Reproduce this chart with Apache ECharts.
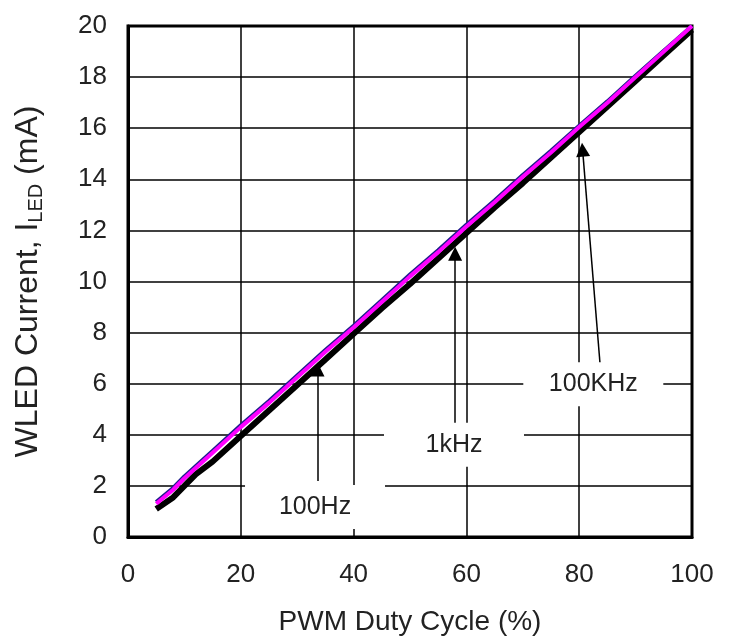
<!DOCTYPE html>
<html>
<head>
<meta charset="utf-8">
<script src="https://cdn.jsdelivr.net/npm/echarts@6/dist/echarts.min.js"></script>
<style>html,body{margin:0;padding:0;background:#fff}#c{width:743px;height:641px}</style>
</head>
<body>
<div id="c"></div>
<script>
const duty = [5, 8, 10, 12, 15, 20, 25, 30, 35, 40, 45, 50, 55, 60, 65, 70, 75, 80, 85, 90, 95, 100];
const current100Hz = [1.37, 1.92, 2.37, 2.77, 3.37, 4.37, 5.32, 6.32, 7.32, 8.27, 9.27, 10.27, 11.22, 12.22, 13.17, 14.17, 15.12, 16.1, 17.05, 18.05, 19.03, 20.0];
const current1kHz = [1.3, 1.85, 2.3, 2.7, 3.3, 4.3, 5.25, 6.25, 7.25, 8.2, 9.2, 10.2, 11.15, 12.15, 13.1, 14.1, 15.05, 16.05, 17.0, 18.0, 19.0, 20.0];
const current100KHz = [1.1, 1.55, 2.0, 2.45, 2.95, 3.95, 4.95, 5.95, 6.95, 7.95, 8.95, 9.9, 10.9, 11.9, 12.9, 13.85, 14.85, 15.85, 16.85, 17.85, 18.85, 19.85];
const xTicks = [0, 20, 40, 60, 80, 100];
const yTicks = [0, 2, 4, 6, 8, 10, 12, 14, 16, 18, 20];
const labels = ['100Hz', '1kHz', '100KHz'];

const pairs = vals => duty.map((d, i) => [d, vals[i]]);
const font = 'Liberation Sans, Arial, sans-serif';
const chart = echarts.init(document.getElementById('c'), null, {renderer: 'canvas'});

const arrowLines = [
  [{coord: [33.6, 2.19]}, {coord: [33.6, 6.56]}],
  [{coord: [58.0, 4.37]}, {coord: [58.0, 11.09]}],
  [{coord: [83.7, 6.76]}, {coord: [80.6, 15.16]}]
];
const boxPts = [
  {coord: [33.16, 1.17], value: labels[0]},
  {coord: [57.8, 3.61], value: labels[1]},
  {coord: [82.5, 5.98], value: labels[2]}
];

chart.setOption({
  animation: false,
  backgroundColor: '#fff',
  grid: {left: 128, right: 51, top: 26, bottom: 103, show: true, borderColor: '#000', borderWidth: 3, backgroundColor: 'transparent'},
  xAxis: {
    type: 'value', min: 0, max: 100, interval: 20,
    name: 'PWM Duty Cycle (%)', nameLocation: 'middle', nameGap: 71,
    nameTextStyle: {fontFamily: font, fontSize: 28, color: '#222'},
    axisLine: {show: true, lineStyle: {color: '#000', width: 3}},
    axisTick: {show: false},
    axisLabel: {fontFamily: font, fontSize: 26, color: '#222', margin: 25,
      formatter: v => xTicks.includes(v) ? String(v) : ''},
    splitLine: {show: true, lineStyle: {color: '#000', width: 1.5}}
  },
  yAxis: {
    type: 'value', min: 0, max: 20, interval: 2,
    name: '{a|WLED Current, I}{b|LED}{a| (mA)}', nameLocation: 'middle', nameGap: 82,
    nameTextStyle: {fontFamily: font, color: '#222',
      rich: {a: {fontFamily: font, fontSize: 32, color: '#222', lineHeight: 35},
             b: {fontFamily: font, fontSize: 20, color: '#222', verticalAlign: 'bottom', lineHeight: 20}}},
    axisLine: {show: true, lineStyle: {color: '#000', width: 3}},
    axisTick: {show: false},
    axisLabel: {fontFamily: font, fontSize: 26, color: '#222', margin: 21,
      formatter: v => yTicks.includes(v) ? String(v) : ''},
    splitLine: {show: true, lineStyle: {color: '#000', width: 1.5}}
  },
  series: [
    {name: '100Hz', type: 'line', data: pairs(current100Hz), showSymbol: false, symbol: 'none',
      lineStyle: {color: '#1c1c8c', width: 4}, z: 3},
    {name: '100KHz', type: 'line', data: pairs(current100KHz), showSymbol: false, symbol: 'none',
      lineStyle: {color: '#000', width: 6}, z: 4,
      markLine: {silent: true, symbol: ['none', 'triangle'], symbolSize: 14, label: {show: false},
        itemStyle: {color: '#000'},
        lineStyle: {color: '#000', width: 1.5, type: 'solid'}, data: arrowLines},
      markPoint: {silent: true, symbol: 'rect', symbolSize: [140, 44], itemStyle: {color: '#fff'},
        label: {show: true, position: 'inside', fontFamily: font, fontSize: 25, color: '#222', formatter: p => p.value},
        data: boxPts}},
    {name: '1kHz', type: 'line', data: pairs(current1kHz), showSymbol: false, symbol: 'none',
      lineStyle: {color: '#ff00ff', width: 4}, z: 5}
  ]
});
</script>
</body>
</html>
